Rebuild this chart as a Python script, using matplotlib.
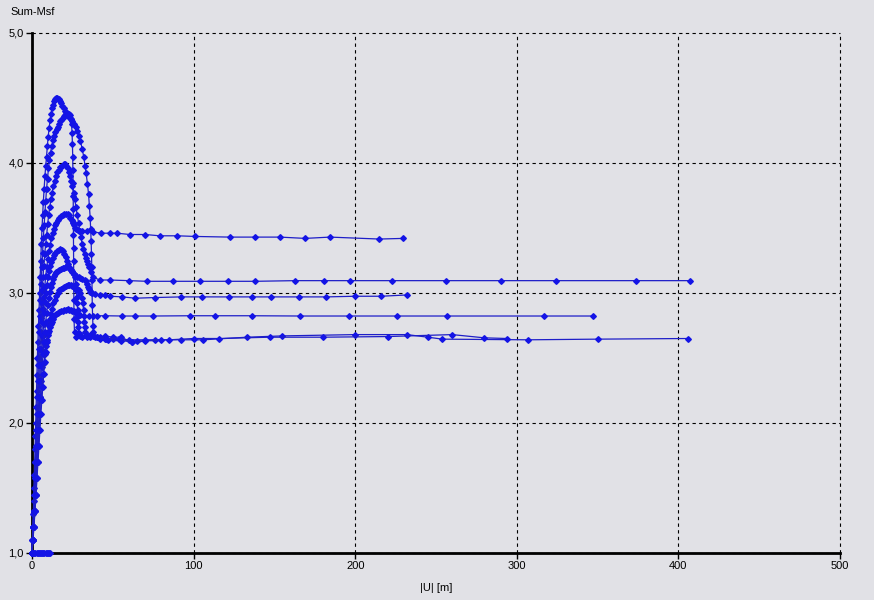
import matplotlib
matplotlib.use("Agg")
import matplotlib.pyplot as plt

plt.rcParams['font.family'] = ['Liberation Sans', 'DejaVu Sans']

# displacement |U| [m] vs Sum-Msf, one curve per calculation
BASE_X = [0, 0.7, 1.4, 2.1, 2.8, 3.5, 4.2, 4.9, 5.6, 6.3, 7.0, 7.7, 8.4, 9.1, 9.8, 10.5, 11.2]
BASE_Y = [1.0] * len(BASE_X)

C1_X = [0, 0.25, 0.5, 0.75, 1.0, 1.2, 1.45, 1.65, 1.9, 2.1, 2.3, 2.55, 2.8, 3.05, 3.3, 3.65, 4.0, 4.35,
        4.7, 5.05, 5.4, 5.8, 6.2, 6.6, 7.0, 7.5, 8.0, 8.5, 9.0, 9.5, 10.0, 10.6, 11.2, 11.8, 12.4,
        13.0, 13.7, 14.3, 15.0, 15.7, 16.5, 17.2, 18.0, 18.7, 19.5, 20.2, 21.0, 21.8, 22.5, 23.3,
        24.0, 25.0, 26.0, 27.0, 28.0, 29.0, 30.0, 31.0, 32.0, 32.8, 33.5, 34.3, 35.0, 35.5, 36.0,
        36.3, 36.6, 36.8, 37.0, 37.1, 37.2, 37.3, 37.5, 37.7, 38.0, 39.0, 42.0, 45.0, 50.0, 55.0,
        62.0, 76.0, 92.0, 106.0, 133.0, 155.0, 200.0, 232.0, 245.0, 254.0, 307.0, 350.0, 406.0]
C1_Y = [1.0, 1.1, 1.2, 1.3, 1.4, 1.5, 1.6, 1.7, 1.8, 1.9, 2.0, 2.12, 2.25, 2.37, 2.5, 2.62, 2.75, 2.87,
        3.0, 3.12, 3.25, 3.38, 3.5, 3.6, 3.7, 3.8, 3.9, 3.98, 4.05, 4.13, 4.2, 4.27, 4.33, 4.38, 4.42,
        4.45, 4.48, 4.49, 4.5, 4.5, 4.49, 4.48, 4.46, 4.44, 4.42, 4.4, 4.39, 4.37, 4.36, 4.35,
        4.34, 4.32, 4.3, 4.28, 4.25, 4.21, 4.17, 4.11, 4.05, 3.98, 3.92, 3.84, 3.76, 3.67, 3.58,
        3.49, 3.4, 3.3, 3.2, 3.1, 3.0, 2.91, 2.82, 2.75, 2.7, 2.66, 2.66, 2.67, 2.66, 2.66,
        2.62, 2.64, 2.64, 2.64, 2.66, 2.67, 2.68, 2.68, 2.66, 2.645, 2.64, 2.645, 2.65]

C2_X = [0, 0.3, 0.6, 1.0, 1.35, 1.7, 2.0, 2.35, 2.7, 3.0, 3.3, 3.6, 3.9, 4.2, 4.55, 4.9, 5.25, 5.7,
        6.1, 6.55, 7.0, 7.5, 8.0, 8.5, 9.0, 9.6, 10.2, 10.8, 11.5, 12.2, 13.0, 13.7, 14.5, 15.2, 16.0,
        16.8, 17.5, 18.2, 19.0, 19.8, 20.5, 21.3, 22.0, 22.8, 23.5, 24.0, 24.5, 24.8, 25.0, 25.2,
        25.3, 25.4, 25.5, 25.55, 25.6, 25.65, 25.7, 25.75, 25.8, 25.85, 25.9, 26.0, 26.3, 27.5,
        30.0, 33.0, 36.0, 40.0, 45.0, 50.0, 60.0, 70.0, 85.0, 100.0, 116.0, 147.0, 180.0, 220.0,
        260.0, 280.0, 294.0]
C2_Y = [1.0, 1.1, 1.2, 1.32, 1.45, 1.58, 1.7, 1.82, 1.95, 2.07, 2.2, 2.32, 2.45, 2.57, 2.7, 2.82, 2.95, 3.07,
        3.2, 3.31, 3.42, 3.52, 3.62, 3.71, 3.8, 3.88, 3.96, 4.02, 4.08, 4.13, 4.18, 4.21, 4.24, 4.26, 4.28,
        4.3, 4.32, 4.33, 4.35, 4.36, 4.37, 4.375, 4.38, 4.38, 4.37, 4.34, 4.3, 4.23, 4.15, 4.05,
        3.95, 3.85, 3.75, 3.65, 3.55, 3.45, 3.35, 3.25, 3.15, 3.05, 2.95, 2.8, 2.7, 2.66,
        2.67, 2.7, 2.68, 2.66, 2.65, 2.65, 2.64, 2.64, 2.64, 2.65, 2.65, 2.66, 2.66, 2.665,
        2.68, 2.655, 2.65]

C3_X = [0, 0.35, 0.7, 1.15, 1.6, 2.0, 2.35, 2.7, 3.1, 3.45, 3.8, 4.15, 4.5, 4.9, 5.3, 5.65, 6.0, 6.35,
        6.8, 7.3, 7.9, 8.5, 9.1, 9.7, 10.3, 11.0, 11.7, 12.4, 13.2, 14.0, 14.8, 15.6, 16.5, 17.5,
        18.5, 19.5, 20.5, 21.3, 22.0, 22.8, 23.5, 24.2, 25.0, 25.8, 26.5, 27.2, 28.0, 28.8, 29.5,
        30.3, 31.0, 31.8, 32.5, 33.2, 34.0, 34.7, 35.5, 36.5, 38.0, 42.0, 48.0, 60.0, 71.0, 87.0,
        104.0, 121.0, 138.0, 163.0, 181.0, 197.0, 223.0, 256.0, 290.0, 324.0, 374.0, 407.0]
C3_Y = [1.0, 1.1, 1.2, 1.32, 1.45, 1.58, 1.7, 1.82, 1.95, 2.07, 2.2, 2.32, 2.45, 2.57, 2.7, 2.81, 2.92, 3.02,
        3.12, 3.21, 3.3, 3.38, 3.45, 3.53, 3.6, 3.66, 3.72, 3.77, 3.82, 3.86, 3.9, 3.93, 3.95, 3.97,
        3.98, 3.99, 3.99, 3.98, 3.96, 3.93, 3.9, 3.86, 3.82, 3.77, 3.72, 3.66, 3.6, 3.54, 3.48,
        3.43, 3.38, 3.34, 3.3, 3.27, 3.25, 3.22, 3.2, 3.16, 3.12, 3.1, 3.1, 3.095, 3.09, 3.09,
        3.09, 3.09, 3.09, 3.095, 3.095, 3.095, 3.095, 3.095, 3.095, 3.095, 3.095, 3.095]

C4_X = [0, 0.4, 0.8, 1.3, 1.8, 2.25, 2.7, 3.1, 3.5, 3.9, 4.3, 4.7, 5.1, 5.55, 6.0, 6.45, 6.9, 7.4,
        7.9, 8.5, 9.1, 9.8, 10.5, 11.2, 12.0, 12.7, 13.5, 14.2, 15.0, 16.0, 17.0, 18.0, 19.0, 20.0,
        21.0, 22.0, 23.0, 23.8, 24.5, 25.2, 26.0, 26.8, 27.5, 28.2, 29.0, 31.0, 34.0, 38.0, 43.0,
        48.0, 52.6, 60.6, 70.0, 79.0, 90.0, 101.0, 122.5, 138.0, 153.5, 169.0, 184.4, 215.0, 229.6]
C4_Y = [1.0, 1.1, 1.2, 1.32, 1.45, 1.58, 1.7, 1.82, 1.95, 2.07, 2.2, 2.32, 2.45, 2.57, 2.68, 2.78, 2.88, 2.97,
        3.05, 3.13, 3.2, 3.26, 3.32, 3.37, 3.42, 3.46, 3.49, 3.52, 3.54, 3.56, 3.58, 3.59, 3.6, 3.605,
        3.61, 3.61, 3.6, 3.58, 3.56, 3.54, 3.52, 3.5, 3.49, 3.485, 3.48, 3.48, 3.48, 3.47, 3.46,
        3.46, 3.46, 3.45, 3.45, 3.44, 3.44, 3.435, 3.43, 3.43, 3.43, 3.42, 3.43, 3.415, 3.42]

C5_X = [0, 0.45, 0.9, 1.45, 2.0, 2.5, 3.0, 3.45, 3.9, 4.35, 4.8, 5.25, 5.7, 6.2, 6.7, 7.2, 7.7, 8.2,
        8.7, 9.3, 9.9, 10.5, 11.2, 12.0, 12.8, 13.6, 14.5, 15.5, 16.5, 17.5, 18.5, 19.2, 20.0, 20.8,
        21.5, 22.2, 23.0, 24.0, 25.0, 26.0, 27.0, 28.0, 29.0, 30.0, 31.0, 32.5, 33.3, 34.0, 34.8,
        35.5, 36.2, 37.0, 39.0, 42.0, 45.0, 48.0, 56.0, 64.0, 76.0, 92.0, 105.0, 122.0, 136.0,
        148.0, 165.0, 182.0, 200.0, 216.0, 232.0]
C5_Y = [1.0, 1.1, 1.2, 1.32, 1.45, 1.58, 1.7, 1.82, 1.95, 2.07, 2.2, 2.32, 2.45, 2.56, 2.67, 2.76, 2.85, 2.93,
        3.0, 3.06, 3.12, 3.17, 3.21, 3.24, 3.27, 3.29, 3.31, 3.32, 3.33, 3.335, 3.33, 3.32, 3.3, 3.28,
        3.25, 3.22, 3.2, 3.18, 3.16, 3.145, 3.13, 3.125, 3.12, 3.115, 3.11, 3.1, 3.09, 3.07, 3.05,
        3.03, 3.01, 3.0, 2.99, 2.985, 2.985, 2.975, 2.97, 2.96, 2.965, 2.97, 2.97, 2.97, 2.97,
        2.97, 2.97, 2.97, 2.975, 2.975, 2.985]

C6_X = [0, 0.5, 1.0, 1.6, 2.2, 2.75, 3.25, 3.75, 4.25, 4.75, 5.25, 5.75, 6.25, 6.8, 7.35, 7.9, 8.5, 9.1,
        9.75, 10.4, 11.0, 11.6, 12.2, 12.8, 13.5, 14.2, 15.0, 16.0, 17.0, 18.0, 19.0, 20.0, 21.0, 22.0,
        23.0, 24.0, 25.0, 25.8, 26.5, 27.0, 27.5, 27.8, 28.0, 28.2, 28.3, 28.4, 28.5, 29.0, 31.0,
        34.0, 38.0, 42.0, 47.0, 55.0, 65.0, 80.0]
C6_Y = [1.0, 1.1, 1.2, 1.32, 1.45, 1.58, 1.7, 1.82, 1.95, 2.07, 2.2, 2.32, 2.43, 2.53, 2.62, 2.7, 2.78, 2.85,
        2.91, 2.96, 3.01, 3.05, 3.08, 3.11, 3.13, 3.15, 3.16, 3.17, 3.18, 3.185, 3.19, 3.195, 3.2, 3.2,
        3.19, 3.18, 3.17, 3.15, 3.12, 3.07, 3.02, 2.97, 2.92, 2.87, 2.82, 2.78, 2.74, 2.69, 2.66,
        2.66, 2.67, 2.65, 2.64, 2.63, 2.63, 2.635]

C7_X = [0, 0.55, 1.1, 1.7, 2.35, 2.95, 3.5, 4.05, 4.6, 5.15, 5.7, 6.25, 6.8, 7.35, 7.9, 8.5, 9.1, 9.7,
        10.3, 10.9, 11.5, 12.1, 12.7, 13.3, 14.0, 15.0, 16.0, 17.0, 18.0, 19.0, 20.0, 21.0, 22.0,
        23.0, 24.0, 25.0, 26.0, 27.0, 28.0, 30.0, 35.0, 40.0, 45.0, 56.0, 64.0, 75.0, 98.0, 113.0,
        136.0, 166.0, 196.0, 226.0, 257.0, 317.0, 347.0]
C7_Y = [1.0, 1.1, 1.2, 1.32, 1.45, 1.58, 1.7, 1.82, 1.95, 2.07, 2.18, 2.28, 2.38, 2.46, 2.53, 2.59, 2.64, 2.68,
        2.71, 2.74, 2.76, 2.78, 2.8, 2.815, 2.83, 2.84, 2.85, 2.855, 2.86, 2.865, 2.87, 2.873, 2.875,
        2.873, 2.87, 2.865, 2.86, 2.85, 2.84, 2.83, 2.825, 2.825, 2.825, 2.823, 2.823, 2.823, 2.825, 2.825,
        2.825, 2.823, 2.823, 2.823, 2.823, 2.823, 2.823]

C8_X = [0, 0.6, 1.2, 1.85, 2.5, 3.1, 3.7, 4.3, 4.9, 5.5, 6.1, 6.7, 7.3, 7.9, 8.5, 9.1, 9.7, 10.3,
        10.9, 11.5, 12.2, 13.0, 14.0, 15.0, 16.0, 17.0, 18.0, 19.0, 20.0, 21.0, 22.0, 23.0, 24.0,
        25.0, 26.0, 27.0, 28.0, 29.0, 30.0, 30.8, 31.5, 31.9, 32.2, 32.4, 32.6, 33.5, 36.0, 40.0,
        46.0, 54.0, 62.0, 70.0]
C8_Y = [1.0, 1.1, 1.2, 1.32, 1.45, 1.58, 1.7, 1.82, 1.95, 2.07, 2.18, 2.28, 2.38, 2.47, 2.55, 2.62, 2.69, 2.75,
        2.8, 2.84, 2.88, 2.92, 2.95, 2.98, 3.0, 3.02, 3.03, 3.04, 3.05, 3.055, 3.06, 3.06, 3.06,
        3.055, 3.05, 3.04, 3.03, 3.02, 3.0, 2.96, 2.92, 2.87, 2.82, 2.78, 2.74, 2.68, 2.66, 2.66,
        2.65, 2.65, 2.62, 2.63]

CURVES = [(BASE_X, BASE_Y), (C1_X, C1_Y), (C2_X, C2_Y), (C3_X, C3_Y), (C4_X, C4_Y),
          (C5_X, C5_Y), (C6_X, C6_Y), (C7_X, C7_Y), (C8_X, C8_Y)]

X_TICKS = [0, 100, 200, 300, 400, 500]
Y_TICKS = [1.0, 2.0, 3.0, 4.0, 5.0]
Y_LABELS = ["1,0", "2,0", "3,0", "4,0", "5,0"]

BG = '#e1e1e6'
LINE = '#1e1ec8'
MARK = '#1414e6'

fig = plt.figure(figsize=(8.74, 6.0), dpi=100, facecolor=BG)
ax = fig.add_axes([32 / 874, 1 - 553 / 600, 808 / 874, 520 / 600], facecolor=BG)

for xs, ys in CURVES:
    ax.plot(xs, ys, color=LINE, lw=0.9, marker='D', ms=2.9, mfc=MARK, mec=MARK,
            clip_on=False, zorder=5)

ax.set_xlim(0, 500)
ax.set_ylim(1.0, 5.0)
ax.set_xticks(X_TICKS)
ax.set_xticklabels([str(t) for t in X_TICKS])
ax.set_yticks(Y_TICKS)
ax.set_yticklabels(Y_LABELS)

ax.grid(True, color='black', linestyle=(0, (3, 3)), linewidth=0.8)
ax.set_axisbelow(True)
# keep the grid lines on the edges (5,0 and 500) whole
for gl in ax.get_xgridlines() + ax.get_ygridlines():
    gl.set_clip_on(False)
for side in ('top', 'right'):
    ax.spines[side].set_visible(False)
for side in ('left', 'bottom'):
    ax.spines[side].set_linewidth(2)
    ax.spines[side].set_color('black')

ax.tick_params(axis='both', direction='out', length=4, width=1, color='black',
               labelsize=8, pad=2)

fig.text(10 / 874, 1 - 12 / 600, 'Sum-Msf', fontsize=8, va='center', ha='left')
fig.text(436 / 874, 1 - 588 / 600, '|U| [m]', fontsize=8, va='center', ha='center')

fig.savefig('out.png', dpi=100, facecolor=BG)
